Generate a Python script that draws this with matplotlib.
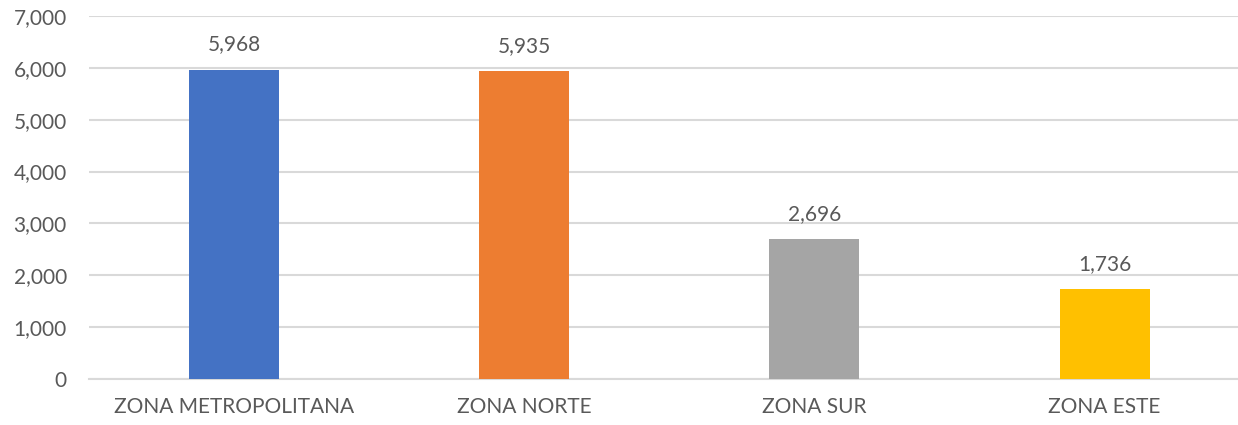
import matplotlib.pyplot as plt
from matplotlib.ticker import FuncFormatter

zonas = ["ZONA METROPOLITANA", "ZONA NORTE", "ZONA SUR", "ZONA ESTE"]
valores = [5968, 5935, 2696, 1736]
colores = ["#4472C4", "#ED7D31", "#A5A5A5", "#FFC000"]
y_ticks = [0, 1000, 2000, 3000, 4000, 5000, 6000, 7000]

TEXT = "#595959"
GRID = "#D9D9D9"

plt.rcParams["font.family"] = ["Lato", "DejaVu Sans"]

fig = plt.figure(figsize=(12.38, 4.25), dpi=100)
ax = fig.add_axes([89 / 1238, 46 / 425, 1 - 89 / 1238, 363 / 425])

x = list(range(len(zonas)))
bars = ax.bar(x, valores, width=0.31, color=colores, zorder=3)

for b, v in zip(bars, valores):
    ax.annotate(f"{v:,}", (b.get_x() + b.get_width() / 2, v),
                xytext=(0, 11), textcoords="offset points",
                ha="center", va="bottom", fontsize=15, color=TEXT)

ax.set_xlim(-0.5, 3.46)
ax.set_ylim(0, 7000)
ax.set_yticks(y_ticks)
ax.yaxis.set_major_formatter(FuncFormatter(lambda v, p: f"{int(v):,}"))
ax.set_xticks(x)
ax.set_xticklabels(zonas)

ax.grid(axis="y", color=GRID, linewidth=1.5, zorder=0)
for s in ["top", "right", "left"]:
    ax.spines[s].set_visible(False)
ax.spines["bottom"].set_color(GRID)
ax.spines["bottom"].set_linewidth(1.5)

ax.tick_params(axis="y", length=0, pad=16, labelsize=15, labelcolor=TEXT)
ax.tick_params(axis="x", length=0, pad=13, labelsize=15, labelcolor=TEXT)

fig.savefig("out.png", dpi=100)
